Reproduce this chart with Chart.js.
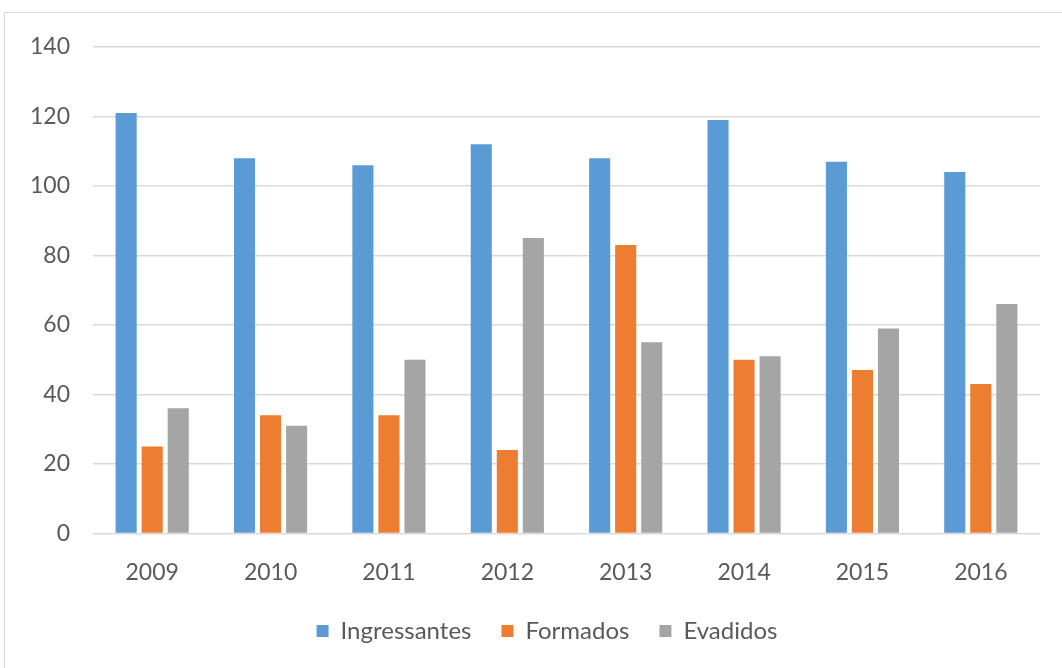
<!DOCTYPE html>
<html>
<head>
<meta charset="utf-8">
<script src="https://cdn.jsdelivr.net/npm/chart.js@4/dist/chart.umd.min.js"></script>
<style>
  html, body { margin: 0; padding: 0; background: #fff; overflow: hidden; }
  #frame { position: absolute; left: 4px; top: 12px; width: 1080px; height: 700px; border: 1.5px solid #d9d9d9; }
  #wrap { position: absolute; left: 0; top: 0; width: 1062px; height: 668px; }
</style>
</head>
<body>
<div id="frame"></div>
<div id="wrap"><canvas id="chart"></canvas></div>
<script>
const years = ["2009", "2010", "2011", "2012", "2013", "2014", "2015", "2016"];
const ingressantes = [121, 108, 106, 112, 108, 119, 107, 104];
const formados = [25, 34, 34, 24, 83, 50, 47, 43];
const evadidos = [36, 31, 50, 85, 55, 51, 59, 66];
const yTicks = [0, 20, 40, 60, 80, 100, 120, 140];

const font = "Lato, 'Open Sans', sans-serif";
const textColor = "#595959";

// legend sits a bit right of centre in the original
const legendShift = {
  id: "legendShift",
  afterLayout(chart) {
    chart.legend.left += 27;
    chart.legend.right += 27;
  },
};

const ctx = document.getElementById("chart").getContext("2d");

new Chart(ctx, {
  type: "bar",
  data: {
    labels: years,
    datasets: [
      { label: "Ingressantes", data: ingressantes, backgroundColor: "#5B9BD5" },
      { label: "Formados", data: formados, backgroundColor: "#ED7D31" },
      { label: "Evadidos", data: evadidos, backgroundColor: "#A5A5A5" },
    ],
  },
  options: {
    responsive: true,
    maintainAspectRatio: false,
    animation: false,
    categoryPercentage: 0.66,
    barPercentage: 0.81,
    layout: { padding: { top: 47, right: 22, bottom: 15, left: 0 } },
    plugins: {
      tooltip: { enabled: false },
      legend: {
        position: "bottom",
        labels: {
          color: textColor,
          font: { family: font, size: 24 },
          boxWidth: 12,
          boxHeight: 12,
          padding: 30,
        },
      },
    },
    scales: {
      x: {
        // legend padding is wide, so let the axis box overlap it a bit
        afterFit: (s) => { s.height -= 22; },
        grid: { display: false, drawTicks: false },
        border: { display: false },
        ticks: { color: textColor, font: { family: font, size: 23 }, padding: 25 },
      },
      y: {
        min: 0,
        max: 140,
        afterFit: (s) => { s.width = 93; },
        afterBuildTicks: (s) => { s.ticks = yTicks.map((v) => ({ value: v })); },
        grid: { color: "#d9d9d9", lineWidth: 1.5, drawTicks: false },
        border: { display: false },
        ticks: { color: textColor, font: { family: font, size: 23 }, padding: 23 },
      },
    },
  },
  plugins: [legendShift],
});
</script>
</body>
</html>
